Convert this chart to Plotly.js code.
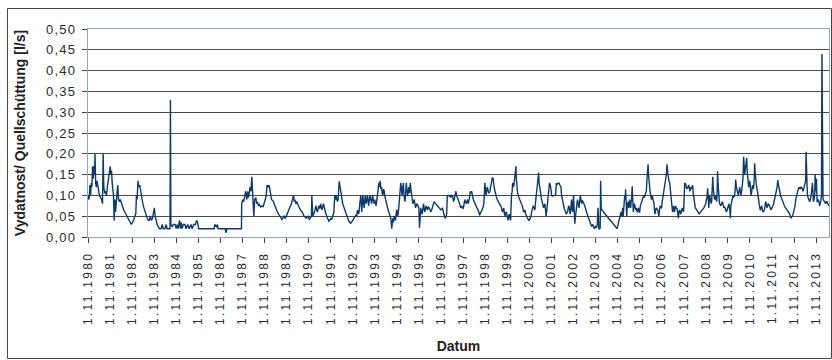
<!DOCTYPE html>
<html>
<head>
<meta charset="utf-8">
<script src="https://cdn.plot.ly/plotly-3.0.1.min.js"></script>
<style>
html,body{margin:0;padding:0;background:#fff;}
#chart{width:832px;height:360px;}
.xtick text{letter-spacing:2.3px;}
.ytick text{letter-spacing:1.3px;}
</style>
</head>
<body>
<div id="chart"></div>
<script>
// decimal-year time stamps of the readings
const years = [
1980.834,1980.86,1980.89,1980.92,1980.95,1980.98,1981.01,1981.04,1981.07,1981.10,1981.13,1981.15,1981.18,1981.21,1981.24,1981.27,1981.30,1981.35,1981.40,1981.45,1981.49,1981.52,1981.55,1981.59,1981.63,1981.67,1981.71,1981.75,1981.80,1981.84,1981.87,1981.90,1981.93,1981.96,1981.99,
1982.02,1982.05,1982.08,1982.11,1982.14,1982.18,1982.22,1982.26,1982.30,1982.35,1982.40,1982.45,1982.50,1982.55,1982.60,1982.65,1982.70,1982.75,1982.80,1982.85,1982.90,1982.95,
1983.00,1983.03,1983.06,1983.10,1983.14,1983.18,1983.22,1983.27,1983.32,1983.37,1983.42,1983.47,1983.52,1983.57,1983.61,1983.66,1983.71,1983.76,1983.80,1983.84,1983.88,1983.92,1983.97,
1984.02,1984.07,1984.15,1984.20,1984.25,1984.32,1984.38,1984.42,1984.50,1984.55,1984.57,1984.59,1984.65,1984.70,1984.78,1984.83,1984.87,1984.92,1984.98,
1985.02,1985.05,1985.10,1985.15,1985.22,1985.28,1985.35,1985.42,1985.50,1985.55,1985.62,1985.70,1985.76,1985.80,1985.85,
1986.00,1986.20,1986.40,1986.55,1986.58,1986.65,1986.70,1986.73,1986.90,
1987.05,1987.09,1987.12,1987.30,1987.50,1987.70,1987.79,1987.80,1987.85,1987.89,1987.93,1987.98,
1988.03,1988.07,1988.10,1988.13,1988.18,1988.22,1988.26,1988.30,1988.35,1988.39,1988.44,1988.48,1988.51,1988.56,1988.60,1988.66,1988.71,1988.77,1988.82,1988.87,1988.91,1988.95,
1989.00,1989.04,1989.09,1989.12,1989.15,1989.20,1989.24,1989.28,1989.33,1989.38,1989.42,1989.47,1989.51,1989.56,1989.62,1989.67,1989.72,1989.77,1989.81,1989.86,1989.90,1989.95,1989.99,
1990.05,1990.10,1990.15,1990.18,1990.21,1990.26,1990.30,1990.37,1990.41,1990.45,1990.50,1990.54,1990.58,1990.63,1990.68,1990.72,1990.77,1990.81,1990.86,1990.90,1990.96,1990.98,
1991.02,1991.06,1991.10,1991.14,1991.17,1991.20,1991.23,1991.27,1991.31,1991.35,1991.38,1991.42,1991.45,1991.48,1991.51,1991.55,1991.58,1991.62,1991.66,1991.70,1991.75,1991.80,1991.84,1991.88,1991.93,1991.98,
1992.02,1992.05,1992.08,1992.11,1992.14,1992.17,1992.22,1992.26,1992.29,1992.32,1992.35,1992.38,1992.41,1992.44,1992.48,1992.52,1992.56,1992.59,1992.64,1992.70,1992.74,1992.78,1992.83,1992.87,1992.92,1992.97,
1993.01,1993.05,1993.09,1993.12,1993.15,1993.20,1993.24,1993.27,1993.29,1993.32,1993.35,1993.40,1993.44,1993.47,1993.50,1993.55,1993.58,1993.61,1993.65,1993.69,1993.73,1993.77,1993.80,1993.83,1993.89,1993.95,1993.98,
1994.02,1994.05,1994.08,1994.11,1994.14,1994.17,1994.20,1994.23,1994.26,1994.30,1994.33,1994.37,1994.41,1994.44,1994.47,1994.50,1994.53,1994.56,1994.60,1994.62,1994.65,1994.68,1994.71,1994.74,1994.77,1994.80,1994.83,1994.86,1994.89,1994.92,1994.95,1994.98,
1995.01,1995.04,1995.07,1995.10,1995.13,1995.16,1995.20,1995.23,1995.26,1995.29,1995.32,1995.35,1995.38,1995.41,1995.44,1995.47,1995.50,1995.53,1995.56,1995.59,1995.62,1995.65,1995.68,1995.71,1995.74,1995.77,1995.80,1995.83,1995.86,1995.89,1995.92,1995.95,1995.98,
1996.01,1996.04,1996.07,1996.10,1996.13,1996.16,1996.19,1996.22,1996.26,1996.30,1996.34,1996.37,1996.41,1996.45,1996.49,1996.52,1996.56,1996.60,1996.64,1996.68,1996.72,1996.75,1996.79,1996.83,1996.87,1996.90,1996.94,1996.98,
1997.02,1997.05,1997.09,1997.12,1997.17,1997.21,1997.25,1997.28,1997.32,1997.36,1997.40,1997.43,1997.47,1997.51,1997.54,1997.58,1997.62,1997.65,1997.68,1997.72,1997.76,1997.79,1997.82,1997.85,1997.88,1997.91,1997.94,1997.98,
1998.01,1998.04,1998.07,1998.10,1998.13,1998.16,1998.19,1998.22,1998.25,1998.28,1998.31,1998.34,1998.37,1998.40,1998.43,1998.46,1998.49,1998.52,1998.55,1998.58,1998.61,1998.64,1998.67,1998.70,1998.73,1998.76,1998.79,1998.82,1998.85,1998.88,1998.91,1998.94,1998.97,
1999.01,1999.05,1999.08,1999.12,1999.16,1999.20,1999.24,1999.28,1999.31,1999.35,1999.40,1999.43,1999.46,1999.50,1999.55,1999.58,1999.62,1999.65,1999.68,1999.71,1999.74,1999.77,1999.81,1999.84,1999.87,1999.90,1999.93,1999.96,1999.99,
2000.03,2000.06,2000.08,2000.11,2000.14,2000.18,2000.21,2000.23,2000.25,2000.27,2000.30,2000.33,2000.36,2000.39,2000.43,2000.46,2000.49,2000.52,2000.55,2000.58,2000.61,2000.64,2000.67,2000.70,2000.73,2000.76,2000.79,2000.82,2000.85,2000.88,2000.91,2000.94,2000.97,
2001.01,2001.05,2001.09,2001.12,2001.15,2001.18,2001.21,2001.24,2001.26,2001.28,2001.30,2001.33,2001.36,2001.39,2001.42,2001.45,2001.48,2001.51,2001.54,2001.57,2001.60,2001.63,2001.66,2001.69,2001.72,2001.75,2001.79,2001.82,2001.85,2001.88,2001.92,2001.96,2001.99,
2002.03,2002.06,2002.09,2002.12,2002.15,2002.18,2002.22,2002.27,2002.30,2002.33,2002.36,2002.39,2002.42,2002.45,2002.48,2002.51,2002.54,2002.57,2002.60,2002.63,2002.66,2002.69,2002.72,2002.75,2002.78,2002.80,2002.84,2002.87,2002.90,2002.93,2002.96,2002.99,
2003.02,2003.06,2003.09,2003.12,2003.15,2003.18,2003.21,2003.24,2003.28,2003.31,2003.35,2003.39,2003.42,2003.46,2003.50,2003.54,2003.57,2003.61,2003.64,2003.66,2003.69,2003.72,2003.75,2003.78,2003.81,2003.84,2003.88,2003.92,2003.95,2003.97,2003.99,
2004.03,2004.05,2004.07,2004.10,2004.14,2004.20,2004.82,2004.85,2004.87,2004.90,2004.93,2004.96,2004.99,
2005.02,2005.05,2005.07,2005.09,2005.11,2005.14,2005.16,2005.18,2005.20,2005.23,2005.25,2005.27,2005.29,2005.32,2005.34,2005.36,2005.38,2005.41,2005.43,2005.45,2005.47,2005.50,2005.52,2005.55,2005.57,2005.59,2005.62,2005.66,2005.69,2005.72,2005.75,2005.78,2005.81,2005.84,2005.87,2005.90,2005.93,2005.96,2005.99,
2006.02,2006.05,2006.08,2006.11,2006.14,2006.17,2006.20,2006.22,2006.24,2006.26,2006.29,2006.31,2006.34,2006.37,2006.40,2006.43,2006.46,2006.49,2006.51,2006.53,2006.56,2006.59,2006.62,2006.65,2006.68,2006.71,2006.74,2006.77,2006.80,2006.83,2006.86,2006.90,2006.93,2006.96,2006.99,
2007.02,2007.05,2007.08,2007.11,2007.14,2007.17,2007.20,2007.22,2007.24,2007.27,2007.29,2007.31,2007.33,2007.36,2007.38,2007.40,2007.42,2007.45,2007.47,2007.50,2007.53,2007.56,2007.59,2007.62,2007.65,2007.68,2007.71,2007.74,2007.77,2007.80,2007.83,2007.86,2007.88,2007.91,2007.94,2007.97,2007.99,
2008.03,2008.06,2008.09,2008.12,2008.15,2008.18,2008.21,2008.24,2008.27,2008.30,2008.33,2008.36,2008.39,2008.42,2008.45,2008.48,2008.51,2008.54,2008.57,2008.60,2008.64,2008.68,2008.71,2008.75,2008.79,2008.83,2008.86,2008.89,2008.92,2008.95,2008.97,
2009.01,2009.04,2009.06,2009.08,2009.10,2009.12,2009.15,2009.17,2009.19,2009.22,2009.24,2009.26,2009.28,2009.31,2009.33,2009.35,2009.37,2009.40,2009.42,2009.44,2009.46,2009.49,2009.52,2009.55,2009.59,2009.62,2009.65,2009.68,2009.71,2009.74,2009.77,2009.80,2009.83,2009.86,2009.89,2009.93,2009.95,2009.97,2009.99,
2010.03,2010.07,2010.10,2010.14,2010.17,2010.19,2010.22,2010.25,2010.28,2010.31,2010.34,2010.37,2010.40,2010.43,2010.46,2010.49,2010.52,2010.55,2010.57,2010.60,2010.62,2010.64,2010.67,2010.69,2010.71,2010.73,2010.76,2010.78,2010.81,2010.83,2010.86,2010.89,2010.92,2010.95,2010.98,
2011.01,2011.03,2011.05,2011.08,2011.10,2011.13,2011.16,2011.18,2011.20,2011.23,2011.25,2011.28,2011.31,2011.34,2011.37,2011.40,2011.43,2011.46,2011.49,2011.52,2011.55,2011.58,2011.61,2011.64,2011.67,2011.70,2011.73,2011.76,2011.79,2011.82,2011.85,2011.88,2011.91,2011.94,2011.97,
2012.00,2012.03,2012.07,2012.10,2012.13,2012.16,2012.19,2012.22,2012.25,2012.28,2012.31,2012.34,2012.37,2012.40,2012.43,2012.46,2012.49,2012.52,2012.55,2012.58,2012.61,2012.64,2012.67,2012.70,2012.73,2012.76,2012.79,2012.82,2012.85,2012.88,2012.91,2012.94,2012.97,
2013.00,2013.03,2013.06,2013.09,2013.12,2013.15,2013.18,2013.21,2013.24,2013.27,2013.30,2013.33,2013.36,2013.38,2013.41,2013.44,2013.47,2013.49,2013.52,2013.55,2013.58,2013.61,2013.64,2013.67,2013.69,2013.71,2013.74,2013.77,2013.79,2013.82,2013.85,2013.88,2013.91,2013.94,2013.97,
2014.00,2014.04,2014.08,2014.10,2014.12,2014.15,2014.18,2014.21,2014.24,2014.27,2014.30,2014.33,2014.36,2014.39,2014.42
];
// spring discharge, l/s
const flow = [
0.100,0.090,0.095,0.125,0.100,0.130,0.120,0.170,0.140,0.170,0.150,0.200,0.130,0.120,0.135,0.125,0.115,0.100,0.095,0.090,0.080,0.200,0.120,0.105,0.110,0.100,0.120,0.140,0.150,0.170,0.150,0.160,0.130,0.120,0.100,
0.040,0.090,0.060,0.085,0.090,0.125,0.090,0.085,0.090,0.080,0.075,0.065,0.060,0.055,0.050,0.045,0.040,0.035,0.030,0.035,0.040,0.050,
0.055,0.100,0.090,0.135,0.120,0.125,0.110,0.095,0.080,0.070,0.060,0.050,0.045,0.040,0.040,0.050,0.040,0.045,0.060,0.070,0.050,0.040,0.030,
0.025,0.020,0.020,0.030,0.020,0.020,0.030,0.020,0.020,0.020,0.330,0.030,0.025,0.030,0.030,0.020,0.030,0.020,0.040,
0.020,0.035,0.020,0.030,0.030,0.020,0.030,0.020,0.030,0.020,0.030,0.030,0.040,0.035,0.020,
0.020,0.020,0.020,0.020,0.030,0.025,0.030,0.020,0.020,
0.020,0.010,0.020,0.020,0.020,0.020,0.020,0.080,0.090,0.085,0.100,0.110,
0.090,0.110,0.095,0.100,0.120,0.110,0.145,0.110,0.050,0.090,0.095,0.080,0.085,0.075,0.078,0.072,0.075,0.073,0.080,0.090,0.100,0.125,
0.120,0.125,0.110,0.100,0.090,0.088,0.085,0.078,0.070,0.065,0.060,0.055,0.050,0.048,0.042,0.048,0.050,0.045,0.048,0.055,0.060,0.065,0.070,
0.080,0.090,0.100,0.085,0.090,0.080,0.085,0.075,0.070,0.068,0.062,0.060,0.055,0.050,0.048,0.045,0.048,0.050,0.042,0.045,0.050,0.100,
0.050,0.055,0.060,0.070,0.075,0.065,0.060,0.070,0.075,0.068,0.080,0.070,0.065,0.075,0.080,0.070,0.060,0.055,0.050,0.045,0.038,0.040,0.045,0.042,0.050,0.060,
0.100,0.090,0.100,0.095,0.085,0.090,0.134,0.120,0.110,0.090,0.085,0.080,0.075,0.070,0.062,0.055,0.050,0.045,0.040,0.035,0.033,0.036,0.040,0.045,0.048,0.052,
0.050,0.065,0.055,0.060,0.080,0.100,0.060,0.080,0.100,0.085,0.070,0.100,0.080,0.090,0.100,0.075,0.085,0.100,0.090,0.080,0.100,0.085,0.080,0.090,0.075,0.100,0.120,
0.130,0.120,0.135,0.115,0.120,0.105,0.100,0.115,0.110,0.095,0.090,0.080,0.070,0.065,0.060,0.055,0.050,0.045,0.020,0.040,0.045,0.035,0.050,0.045,0.040,0.055,0.066,0.050,0.055,0.070,0.090,0.110,
0.130,0.115,0.100,0.120,0.130,0.100,0.085,0.100,0.130,0.115,0.100,0.110,0.120,0.105,0.130,0.115,0.100,0.085,0.080,0.085,0.090,0.080,0.070,0.075,0.080,0.078,0.075,0.070,0.022,0.060,0.070,0.060,0.055,
0.065,0.080,0.070,0.060,0.068,0.075,0.070,0.065,0.072,0.070,0.065,0.060,0.065,0.075,0.080,0.085,0.082,0.080,0.078,0.075,0.072,0.070,0.068,0.065,0.068,0.070,0.060,0.050,
0.045,0.047,0.055,0.100,0.100,0.098,0.100,0.095,0.100,0.098,0.085,0.090,0.100,0.110,0.100,0.095,0.088,0.082,0.080,0.070,0.072,0.075,0.068,0.070,0.080,0.090,0.085,0.080,
0.085,0.090,0.080,0.085,0.095,0.110,0.105,0.110,0.100,0.090,0.088,0.085,0.080,0.075,0.072,0.070,0.068,0.065,0.060,0.052,0.058,0.060,0.062,0.065,0.070,0.075,0.090,0.130,0.110,0.100,0.115,0.120,0.110,
0.105,0.110,0.125,0.130,0.143,0.140,0.120,0.110,0.100,0.095,0.088,0.085,0.080,0.078,0.075,0.065,0.060,0.065,0.070,0.055,0.050,0.060,0.058,0.048,0.040,0.050,0.055,0.045,0.040,
0.100,0.110,0.130,0.120,0.125,0.140,0.150,0.170,0.140,0.120,0.110,0.100,0.095,0.090,0.085,0.080,0.078,0.075,0.068,0.060,0.062,0.065,0.055,0.050,0.048,0.045,0.042,0.040,0.042,0.045,0.050,0.060,0.065,
0.075,0.070,0.065,0.085,0.100,0.110,0.130,0.140,0.155,0.130,0.120,0.110,0.100,0.090,0.085,0.078,0.070,0.075,0.080,0.065,0.050,0.065,0.080,0.095,0.120,0.130,0.125,0.110,0.100,0.098,0.100,0.100,0.100,
0.100,0.130,0.125,0.128,0.130,0.130,0.125,0.120,0.100,0.090,0.080,0.070,0.068,0.065,0.060,0.055,0.058,0.060,0.070,0.075,0.065,0.055,0.070,0.090,0.065,0.060,0.100,0.065,0.032,0.050,0.060,0.075,
0.090,0.080,0.070,0.085,0.100,0.090,0.080,0.088,0.085,0.080,0.075,0.070,0.062,0.055,0.048,0.040,0.035,0.030,0.028,0.025,0.028,0.030,0.025,0.020,0.022,0.025,0.022,0.030,0.070,0.030,0.020,
0.020,0.022,0.135,0.065,0.065,0.060,0.020,0.030,0.030,0.040,0.045,0.055,0.060,
0.050,0.065,0.070,0.050,0.060,0.080,0.100,0.090,0.115,0.080,0.050,0.070,0.080,0.085,0.070,0.080,0.090,0.075,0.070,0.085,0.090,0.122,0.080,0.060,0.070,0.080,0.075,0.065,0.070,0.060,0.065,0.070,0.060,0.060,0.075,0.080,0.085,0.090,0.100,
0.100,0.095,0.100,0.105,0.110,0.140,0.160,0.175,0.150,0.130,0.120,0.110,0.100,0.090,0.100,0.095,0.085,0.080,0.065,0.055,0.065,0.070,0.068,0.065,0.058,0.050,0.065,0.075,0.070,0.070,0.085,0.100,0.115,0.130,0.135,
0.140,0.150,0.175,0.155,0.140,0.135,0.130,0.115,0.100,0.090,0.080,0.070,0.060,0.070,0.075,0.065,0.060,0.070,0.075,0.068,0.070,0.060,0.045,0.060,0.065,0.058,0.055,0.065,0.070,0.065,0.060,0.100,0.130,0.128,0.125,0.115,0.120,
0.118,0.125,0.115,0.110,0.118,0.120,0.115,0.125,0.105,0.090,0.080,0.070,0.068,0.065,0.062,0.060,0.058,0.055,0.058,0.060,0.062,0.065,0.068,0.070,0.075,0.080,0.090,0.095,0.117,0.085,0.070,
0.100,0.090,0.085,0.080,0.085,0.110,0.145,0.120,0.100,0.095,0.090,0.095,0.100,0.090,0.085,0.110,0.158,0.120,0.100,0.090,0.080,0.078,0.075,0.080,0.085,0.078,0.070,0.072,0.070,0.065,0.060,0.065,0.070,0.075,0.080,0.060,0.045,0.075,0.080,
0.090,0.100,0.095,0.100,0.115,0.138,0.120,0.110,0.105,0.100,0.110,0.120,0.110,0.100,0.110,0.120,0.140,0.193,0.160,0.150,0.160,0.175,0.180,0.190,0.160,0.140,0.130,0.120,0.125,0.135,0.115,0.100,0.110,0.125,0.115,
0.120,0.140,0.177,0.150,0.130,0.125,0.115,0.110,0.100,0.090,0.080,0.070,0.064,0.070,0.075,0.065,0.060,0.062,0.065,0.075,0.085,0.080,0.070,0.075,0.080,0.078,0.075,0.070,0.065,0.068,0.070,0.075,0.080,0.090,0.100,
0.105,0.110,0.120,0.137,0.125,0.120,0.110,0.100,0.095,0.090,0.088,0.085,0.080,0.075,0.072,0.070,0.068,0.065,0.062,0.060,0.058,0.055,0.050,0.045,0.048,0.050,0.055,0.060,0.068,0.075,0.090,0.100,0.105,
0.110,0.115,0.120,0.118,0.115,0.120,0.120,0.115,0.110,0.115,0.120,0.125,0.135,0.205,0.120,0.100,0.095,0.090,0.088,0.085,0.090,0.100,0.115,0.130,0.110,0.085,0.090,0.100,0.150,0.110,0.140,0.085,0.085,0.090,0.085,
0.075,0.085,0.100,0.440,0.100,0.090,0.088,0.085,0.082,0.080,0.085,0.085,0.080,0.078,0.075
];
const tickYears = [1980,1981,1982,1983,1984,1985,1986,1987,1988,1989,1990,1991,1992,1993,1994,1995,1996,1997,1998,1999,2000,2001,2002,2003,2004,2005,2006,2007,2008,2009,2010,2011,2012,2013];

function decToDate(t){
  const y=Math.floor(t);
  const s=Date.UTC(y,0,1), e=Date.UTC(y+1,0,1);
  return new Date(s+(t-y)*(e-s)).toISOString().slice(0,19).replace('T',' ');
}
const xDates = years.map(decToDate);

const trace = {
  x: xDates, y: flow, type:'scatter', mode:'lines',
  line:{color:'#0c3a6b', width:1.4}, hoverinfo:'x+y'
};

const frame='#8ea6c2';
const layout = {
  width:832, height:360,
  margin:{l:88, r:3, t:29, b:123},
  paper_bgcolor:'#fff', plot_bgcolor:'#fff',
  separators:', ',
  showlegend:false,
  font:{family:'"Liberation Sans", Arial, sans-serif', color:'#222'},
  xaxis:{
    type:'date',
    range:[decToDate(1980.8333), decToDate(2014.42)],
    tickmode:'array',
    tickvals: tickYears.map(y=>y+'-11-01'),
    ticktext: tickYears.map(y=>'1.11.'+y),
    tickangle:-90,
    tickfont:{size:12, color:'#2a2a2a'},
    ticks:'outside', ticklen:5, tickcolor:'#444', tickwidth:1,
    ticklabelstandoff:4,
    showgrid:false, zeroline:false,
    showline:true, mirror:true, linecolor:frame, linewidth:1,
    title:{text:'Datum', font:{size:14, weight:'bold', color:'#222'}, standoff:17}
  },
  yaxis:{
    range:[0,0.5], dtick:0.05, tick0:0, tickformat:'.2f',
    tickfont:{size:13, color:'#2a2a2a'},
    ticks:'outside', ticklen:5, tickcolor:'#444', tickwidth:1,
    ticklabelstandoff:3,
    showgrid:true, gridcolor:'#4a4a4a', gridwidth:1,
    zeroline:false,
    showline:true, mirror:true, linecolor:frame, linewidth:1,
    title:{text:'Vydatnost/ Quellschüttung [l/s]', font:{size:14, weight:'bold', color:'#222'}, standoff:16}
  },
  shapes:[{
    type:'rect', xref:'paper', yref:'paper',
    x0:-0.1087, x1:1.0034, y0:-0.584, y1:1.0986,
    line:{color:'#444', width:1}, fillcolor:'rgba(0,0,0,0)', layer:'below'
  }]
};
Plotly.newPlot('chart',[trace],layout,{displayModeBar:false, staticPlot:true});
</script>
</body>
</html>
